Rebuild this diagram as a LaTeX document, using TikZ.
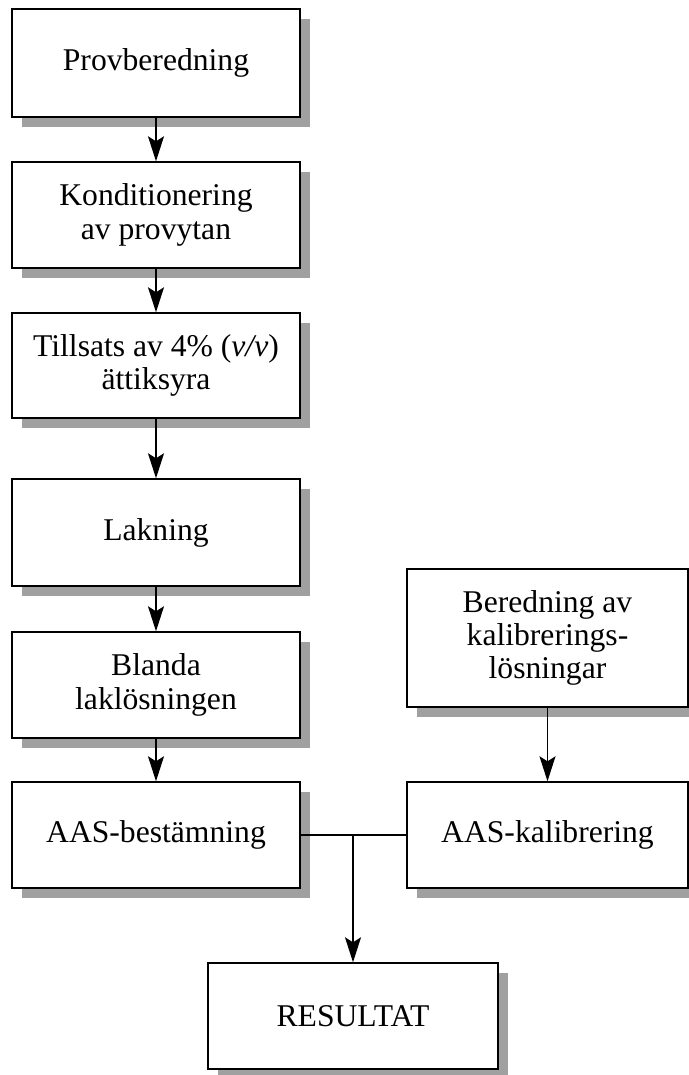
\documentclass[tikz,border=0pt]{standalone}
\usepackage{fontspec}
\setmainfont{Liberation Serif}
\usetikzlibrary{arrows.meta, positioning, shadows, calc}
\definecolor{inkc}{RGB}{0,0,0}
\definecolor{shadec}{RGB}{160,160,160}
\tikzset{
  box/.style={
    rectangle, draw=inkc, line width=0.8pt, fill=white,
    minimum width=5.76cm, minimum height=2.12cm, align=center,
    inner sep=4pt, font=\fontsize{18}{19}\selectfont, text=inkc,
    drop shadow={shadow xshift=0.2cm, shadow yshift=-0.2cm,
                 fill=shadec, opacity=1}
  },
  rbox/.style={box, minimum width=5.62cm},
  arr/.style={-{Stealth[length=0.5cm, width=0.32cm, inset=0.1cm]}, line width=0.8pt, draw=inkc},
  link/.style={line width=0.8pt, draw=inkc},
}

\begin{document}
\begin{tikzpicture}
  \useasboundingbox (0,0) rectangle (13.78,-21.5);

  % main chain
  \node[box, minimum height=2.16cm] (prov) at (3.12,-1.26) {Provberedning};
  \node[box] (kond) at (3.12,-4.30) {Konditionering\\av provytan};
  \node[box, minimum height=2.10cm] (till) at (3.12,-7.31) {Tillsats av 4\% (\textit{v/v})\\ättiksyra};
  \node[box, minimum height=2.14cm] (lak) at (3.12,-10.65) {Lakning};
  \node[box] (blanda) at (3.12,-13.70) {Blanda\\laklösningen};
  \node[box] (aasbest) at (3.12,-16.70) {AAS-bestämning};

  % calibration branch
  \node[rbox, minimum height=2.76cm] (kalsol) at (10.95,-12.76)
    {Beredning av\\kalibrerings-\\lösningar};
  \node[rbox] (aaskal) at (10.95,-16.70) {AAS-kalibrering};

  \node[box, minimum width=5.8cm] (res) at (7.06,-20.32) {RESULTAT};

  \draw[arr] (prov) -- (kond);
  \draw[arr] (kond) -- (till);
  \draw[arr] (till) -- (lak);
  \draw[arr] (lak) -- (blanda);
  \draw[arr] (blanda) -- (aasbest);
  \draw[arr] (kalsol) -- (aaskal);

  \coordinate (join) at (res |- aasbest.east);
  \draw[link] (aasbest.east) -- (aaskal.west);
  \draw[arr] (join) -- (res.north);

\end{tikzpicture}
\end{document}
